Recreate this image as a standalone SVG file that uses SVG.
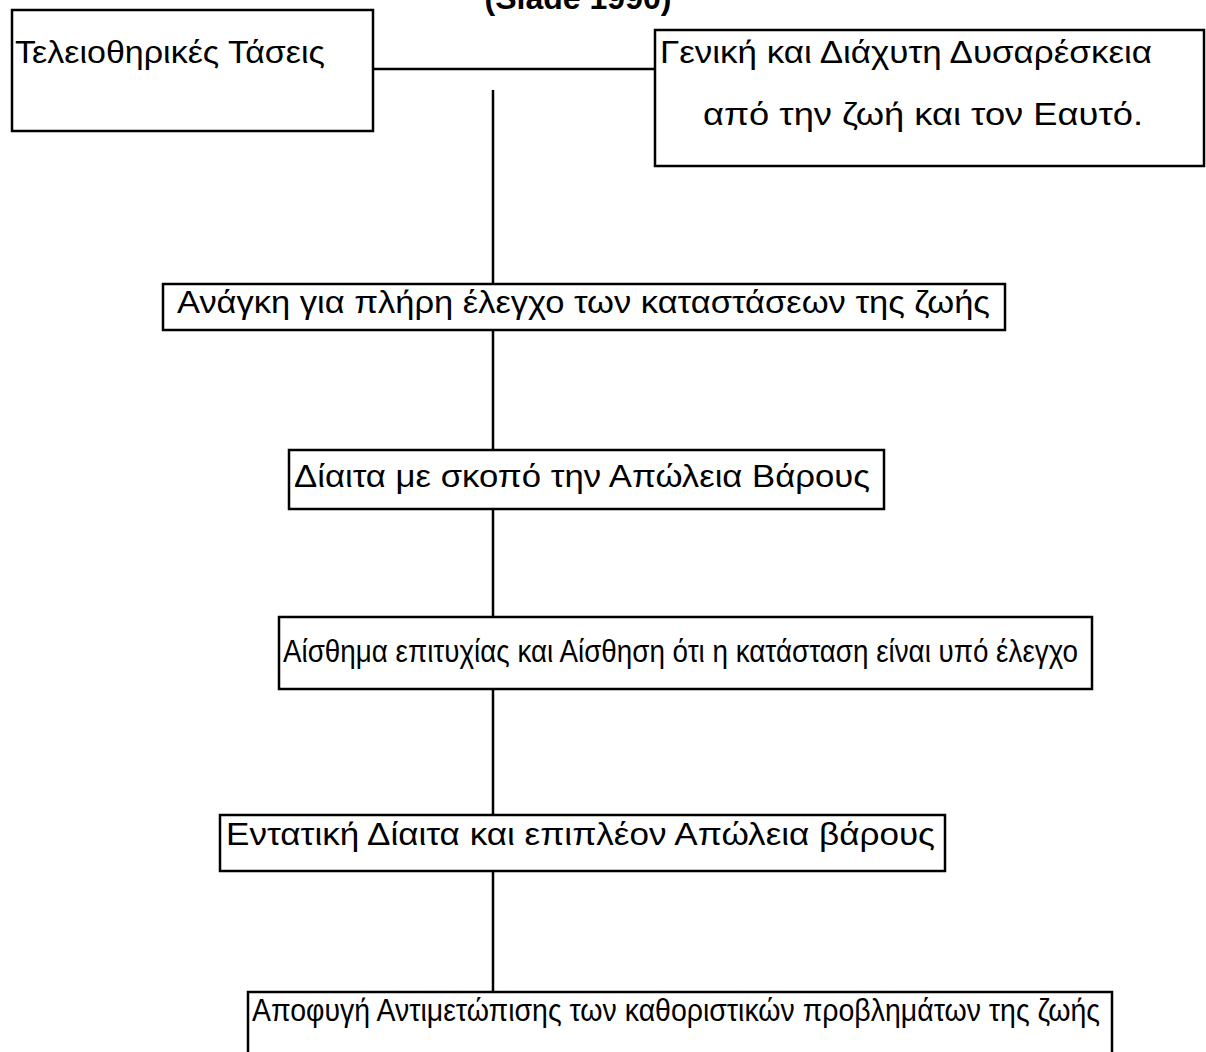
<svg xmlns="http://www.w3.org/2000/svg" width="1206" height="1052" viewBox="0 0 1206 1052">
<style>
.box{fill:#fff;stroke:#000;stroke-width:2.5}
.t{font-family:"Liberation Sans",Arial,sans-serif;fill:#000;font-size:31px}
.c{stroke:#000;stroke-width:2.5;fill:none}
</style>
<rect width="1206" height="1052" fill="#fff"/>
<text x="578" y="9" text-anchor="middle" font-family="Liberation Sans,Arial,sans-serif" font-weight="bold" font-size="32" textLength="187" lengthAdjust="spacingAndGlyphs">(Slade 1990)</text>
<g id="connectors">
<line class="c" x1="373" y1="69" x2="655" y2="69"/>
<line class="c" x1="493" y1="90" x2="493" y2="992"/>
</g>
<g id="n1">
<rect class="box" x="12" y="10" width="361" height="121"/>
<text class="t" x="15" y="63" font-size="32" textLength="310" lengthAdjust="spacingAndGlyphs">Τελειοθηρικές Τάσεις</text>
</g>
<g id="n2">
<rect class="box" x="655" y="30" width="549" height="136"/>
<text class="t" x="660" y="63" font-size="32" textLength="492" lengthAdjust="spacingAndGlyphs">Γενική και Διάχυτη Δυσαρέσκεια</text>
<text class="t" x="703" y="125" font-size="32" textLength="440" lengthAdjust="spacingAndGlyphs">από την ζωή και τον Εαυτό.</text>
</g>
<g id="n3">
<rect class="box" x="163" y="284" width="842" height="46"/>
<text class="t" x="177" y="313" font-size="30" textLength="813" lengthAdjust="spacingAndGlyphs">Ανάγκη για πλήρη έλεγχο των καταστάσεων της ζωής</text>
</g>
<g id="n4">
<rect class="box" x="289" y="450" width="595" height="59"/>
<text class="t" x="294" y="487" font-size="32" textLength="576" lengthAdjust="spacingAndGlyphs">Δίαιτα με σκοπό την Απώλεια Βάρους</text>
</g>
<g id="n5">
<rect class="box" x="279" y="617" width="813" height="72"/>
<text class="t" x="283" y="662" font-size="32" textLength="795" lengthAdjust="spacingAndGlyphs">Αίσθημα επιτυχίας και Αίσθηση ότι η κατάσταση είναι υπό έλεγχο</text>
</g>
<g id="n6">
<rect class="box" x="220" y="815" width="725" height="56"/>
<text class="t" x="226" y="845" font-size="30" textLength="709" lengthAdjust="spacingAndGlyphs">Εντατική Δίαιτα και επιπλέον Απώλεια βάρους</text>
</g>
<g id="n7">
<path class="box" d="M248,1060 V992 H1112 V1060"/>
<text class="t" x="252" y="1021" font-size="30" textLength="848" lengthAdjust="spacingAndGlyphs">Αποφυγή Αντιμετώπισης των καθοριστικών προβλημάτων της ζωής</text>
</g>
</svg>
